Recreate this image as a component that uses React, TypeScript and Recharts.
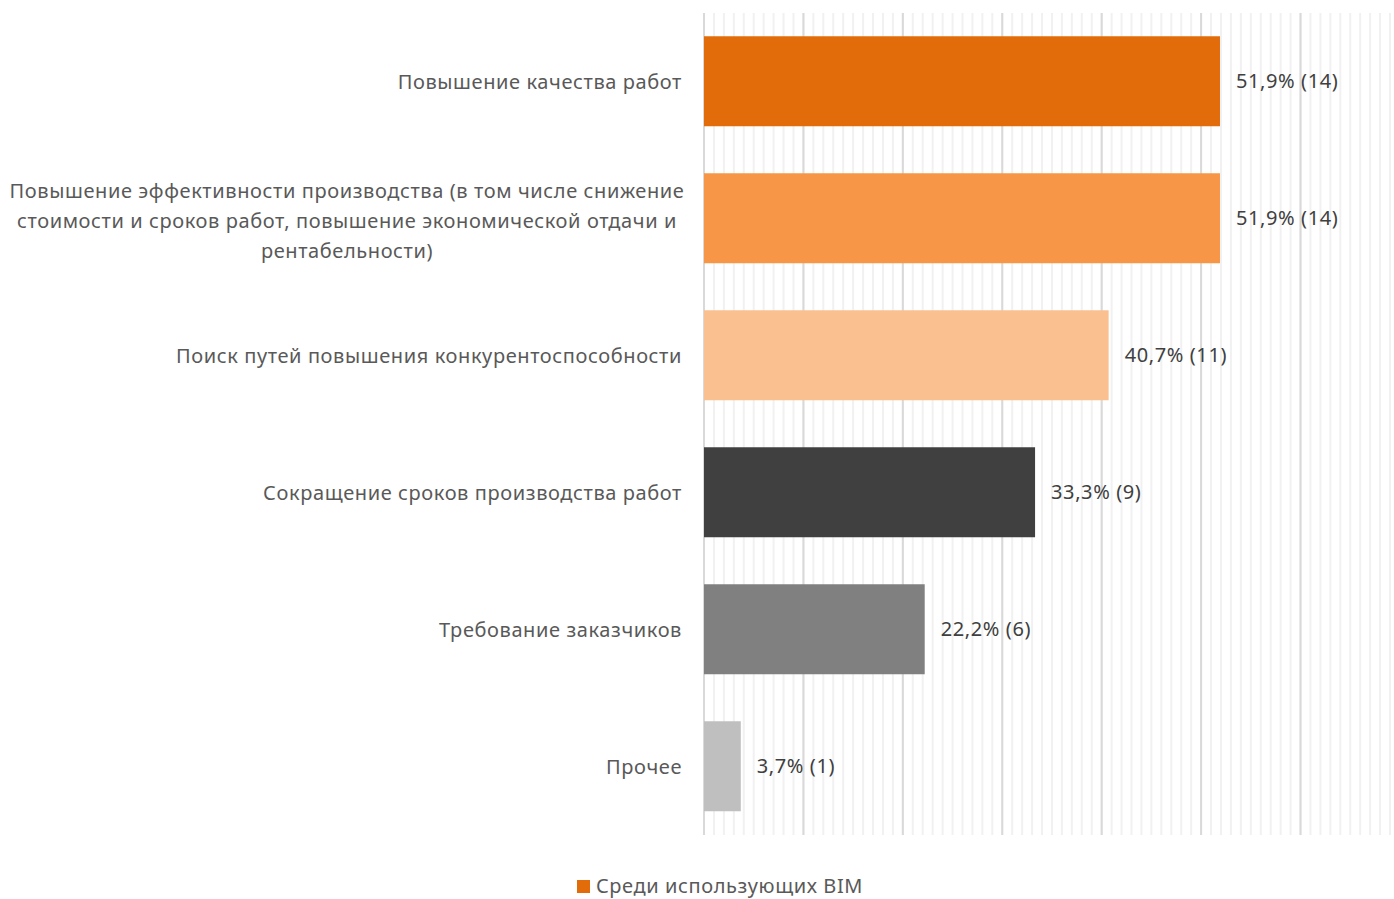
import { BarChart, Bar, XAxis, YAxis, Cell, LabelList, CartesianGrid } from "recharts";

const categories = [
  ["Повышение качества работ"],
  [
    "Повышение эффективности производства (в том числе снижение",
    "стоимости и сроков работ, повышение экономической отдачи и",
    "рентабельности)",
  ],
  ["Поиск путей повышения конкурентоспособности"],
  ["Сокращение сроков производства работ"],
  ["Требование заказчиков"],
  ["Прочее"],
];
const shares = [51.9, 51.9, 40.7, 33.3, 22.2, 3.7];
const counts = [14, 14, 11, 9, 6, 1];
const barColors = ["#E36C0A", "#F79646", "#FAC090", "#404040", "#808080", "#BFBFBF"];
const seriesName = "Среди использующих BIM";
const minorTicks = Array.from({ length: 70 }, (_, i) => i);
const majorTicks = [0, 10, 20, 30, 40, 50, 60];

const data = categories.map((lines, i) => ({
  key: String(i),
  lines,
  value: shares[i],
  count: counts[i],
}));

const font = "'Noto Sans', sans-serif";

function CategoryTick(props: any) {
  const { x, y, payload } = props;
  const lines: string[] = data[payload.index]?.lines ?? [];
  if (lines.length === 1) {
    return (
      <text x={x} y={y} dy={7} textAnchor="end" fill="#595959" fontSize={20} letterSpacing={0.6} fontFamily={font}>
        {lines[0]}
      </text>
    );
  }
  const blockWidth = 670;
  const cx = x - blockWidth / 2;
  return (
    <text x={cx} y={y} textAnchor="middle" fill="#595959" fontSize={20} letterSpacing={0.6} fontFamily={font}>
      {lines.map((l, i) => (
        <tspan key={i} x={cx} dy={i === 0 ? 7 - ((lines.length - 1) * 30) / 2 + 2 : 30}>
          {l}
        </tspan>
      ))}
    </text>
  );
}

const scaleX = (xAxis: any, values: number[]) => {
  const s = xAxis?.scale;
  if (!s) return [];
  const fn = typeof s === "function" ? s : s.map?.bind(s);
  return values.map((v) => fn(v));
};

export default function App() {
  return (
    <div style={{ position: "absolute", left: 0, top: 0, width: 1394, height: 899, background: "#fff" }}>
      <BarChart
        width={1394}
        height={899}
        data={data}
        layout="vertical"
        barCategoryGap="17%"
        margin={{ top: 13, right: 4, bottom: 64, left: 4 }}
      >
        <CartesianGrid
          horizontal={false}
          verticalValues={minorTicks}
          verticalCoordinatesGenerator={({ xAxis }: any) => scaleX(xAxis, minorTicks)}
          stroke="#f1f1f1"
          strokeWidth={2}
        />
        <CartesianGrid
          horizontal={false}
          verticalValues={majorTicks}
          verticalCoordinatesGenerator={({ xAxis }: any) => scaleX(xAxis, majorTicks)}
          stroke="#d9d9d9"
          strokeWidth={2}
        />
        <XAxis type="number" domain={[0, 69]} ticks={minorTicks} interval={0} hide />
        <YAxis
          type="category"
          dataKey="key"
          width={700}
          axisLine={false}
          tickLine={false}
          tick={<CategoryTick />}
          tickMargin={16}
        />
        <Bar dataKey="value" name={seriesName} fill={barColors[0]} isAnimationActive={false}>
          {data.map((d, i) => (
            <Cell key={d.key} fill={barColors[i]} />
          ))}
          <LabelList
            dataKey="value"
            position="right"
            offset={16}
            fill="#404040"
            fontSize={20}
            letterSpacing={0.6}
            fontFamily={font}
            formatter={(v: any) => {
              const i = shares.indexOf(Number(v));
              return `${Number(v).toFixed(1).replace(".", ",")}% (${counts[i]})`;
            }}
          />
        </Bar>
      </BarChart>
      <div
        style={{
          position: "absolute",
          left: 0,
          width: 1394,
          top: 874,
          lineHeight: "24px",
          display: "flex",
          justifyContent: "center",
          alignItems: "center",
          fontFamily: font,
          fontSize: 20,
          letterSpacing: 0.6,
          color: "#595959",
          paddingLeft: 46,
          boxSizing: "border-box",
        }}
      >
        <span style={{ width: 13, height: 13, background: barColors[0], marginRight: 6, display: "inline-block" }} />
        {seriesName}
      </div>
    </div>
  );
}
